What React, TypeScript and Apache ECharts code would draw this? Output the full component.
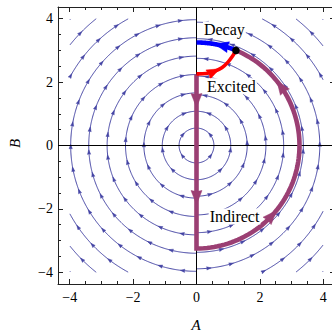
import React, { useEffect, useRef } from 'react';
import * as echarts from 'echarts';

// ---- data ----
const majorTicks = [-4, -2, 0, 2, 4];
const minorTicks = [-3.5, -3, -2.5, -1.5, -1, -0.5, 0.5, 1, 1.5, 2.5, 3, 3.5];
const axisMin = -4.37;
const axisMax = 4.37;
const streamBox = 4;

// stream-line radii (left half flows clockwise upward, right half counter-clockwise upward)
const leftRadii = [0.55, 1.08, 1.66, 2.24, 2.82, 3.4, 3.97, 4.54, 5.1, 5.63];
const rightRadii = [0.55, 1.08, 1.6, 2.19, 2.75, 3.37, 3.89, 4.5, 5.08, 5.63];

// highlighted paths
const pathRadius = 3.25;
const indirectVerticalB = [2.24, -3.25];
const indirectArcDeg = [-90, 67.5];
const decayArcDeg = [67.5, 90];
const excitedA = [0, 0.3, 0.55, 0.8, 1.0, 1.15, 1.244];
const excitedB = [2.26, 2.27, 2.33, 2.45, 2.64, 2.84, 3.0];
const junction = [1.244, 3.0];
const indirectVertArrowB = [1.42, -1.64];
const indirectArcArrowDeg = [35, -43];
const decayArrowDeg = [76];
const excitedArrowIndex = 2;

// labels
const labelTexts = ['Decay', 'Excited', 'Indirect'];
const labelA = [0.88, 1.1, 1.2];
const labelB = [3.66, 1.87, -2.24];

const streamColor = '#4444a4';
const purple = '#9b3f73';
const blue = '#0000ff';
const red = '#ff0000';
const frameColor = '#222';
const serif = '"Liberation Serif", "DejaVu Serif", serif';

const fmt = (v: number) => (v < 0 ? '\u2212' + Math.abs(v) : String(v));

function arrowHead(center: number[], toward: number[], L: number, W: number, color: string, notchF = 0.3) {
  let dx = toward[0] - center[0];
  let dy = toward[1] - center[1];
  const len = Math.hypot(dx, dy) || 1;
  dx /= len;
  dy /= len;
  const nx = -dy, ny = dx;
  const tip = [center[0] + dx * L / 2, center[1] + dy * L / 2];
  const bx = center[0] - dx * L / 2, by = center[1] - dy * L / 2;
  const notch = [center[0] - dx * L * notchF, center[1] - dy * L * notchF];
  return {
    type: 'polygon',
    shape: {
      points: [tip, [bx + nx * W / 2, by + ny * W / 2], notch, [bx - nx * W / 2, by - ny * W / 2]],
    },
    style: { fill: color, stroke: color, lineWidth: 0.5 },
  };
}

function mkXAxis(position: string, showLine: boolean, ticks: number[], len: number, labels: boolean) {
  return {
    type: 'value', position, min: axisMin, max: axisMax, offset: 0,
    axisLine: { show: showLine, onZero: false, lineStyle: { color: frameColor, width: 1 } },
    axisTick: { show: true, inside: true, length: len, customValues: ticks, lineStyle: { color: frameColor, width: 1 } },
    axisLabel: {
      show: labels, customValues: majorTicks, formatter: fmt, margin: 6,
      color: '#000', fontFamily: serif, fontSize: 14,
    },
    splitLine: { show: false },
  };
}

function mkYAxis(position: string, showLine: boolean, ticks: number[], len: number, labels: boolean) {
  return {
    type: 'value', position, min: axisMin, max: axisMax, offset: 0,
    axisLine: { show: showLine, onZero: false, lineStyle: { color: frameColor, width: 1 } },
    axisTick: { show: true, inside: true, length: len, customValues: ticks, lineStyle: { color: frameColor, width: 1 } },
    axisLabel: {
      show: labels, customValues: majorTicks, formatter: fmt, margin: 5,
      color: '#000', fontFamily: serif, fontSize: 14,
    },
    splitLine: { show: false },
  };
}

function renderStream(params: any, api: any) {
  const r = api.value(0);
  const side = api.value(1);
  const ptAt = (t: number) => [side * r * Math.cos(t), r * Math.sin(t)];
  const inBox = (p: number[]) => Math.abs(p[0]) <= streamBox && Math.abs(p[1]) <= streamBox;
  const n = Math.max(30, Math.ceil((Math.PI * r) / 0.03));
  const runs: number[][][] = [];
  let cur: number[][] = [];
  for (let i = 0; i <= n; i++) {
    const t = -Math.PI / 2 + (Math.PI * i) / n;
    const p = ptAt(t);
    if (inBox(p)) cur.push(api.coord(p));
    else {
      if (cur.length > 1) runs.push(cur);
      cur = [];
    }
  }
  if (cur.length > 1) runs.push(cur);
  const children: any[] = runs.map((points) => ({
    type: 'polyline',
    shape: { points },
    style: { stroke: streamColor, lineWidth: 1, fill: 'none' },
  }));
  const total = Math.PI * r;
  const spacing = 0.72;
  for (let s = ((r * 0.61) % spacing) + 0.18; s < total - 0.1; s += spacing) {
    const t = -Math.PI / 2 + s / r;
    const p = ptAt(t);
    if (!inBox(p)) continue;
    const p2 = ptAt(t + 0.02 / r);
    children.push(arrowHead(api.coord(p), api.coord(p2), 4.5, 3.2, streamColor, 0.4));
  }
  return { type: 'group', children };
}

function arcPoints(api: any, r: number, d0: number, d1: number) {
  const pts: number[][] = [];
  const n = 80;
  for (let i = 0; i <= n; i++) {
    const a = ((d0 + ((d1 - d0) * i) / n) * Math.PI) / 180;
    pts.push(api.coord([r * Math.cos(a), r * Math.sin(a)]));
  }
  return pts;
}

function arcArrow(api: any, r: number, deg: number, L: number, W: number, color: string) {
  const a = (deg * Math.PI) / 180;
  const a2 = a + 0.01;
  return arrowHead(
    api.coord([r * Math.cos(a), r * Math.sin(a)]),
    api.coord([r * Math.cos(a2), r * Math.sin(a2)]),
    L, W, color, 0.42
  );
}

function renderPaths(params: any, api: any) {
  const lines: any[] = [];
  const heads: any[] = [];
  const purplePts = [
    api.coord([0, indirectVerticalB[0]]),
    ...arcPoints(api, pathRadius, indirectArcDeg[0], indirectArcDeg[1]),
  ];
  lines.push({
    type: 'polyline', shape: { points: purplePts },
    style: { stroke: purple, lineWidth: 4.6, fill: 'none', lineJoin: 'miter' },
  });
  indirectVertArrowB.forEach((b) => {
    heads.push(arrowHead(api.coord([0, b]), api.coord([0, b - 0.1]), 14, 11, purple, 0.42));
  });
  indirectArcArrowDeg.forEach((d) => heads.push(arcArrow(api, pathRadius, d, 14, 11, purple)));

  const redPts = excitedA.map((a, i) => api.coord([a, excitedB[i]]));
  lines.push({
    type: 'polyline', shape: { points: redPts, smooth: 0.3 },
    style: { stroke: red, lineWidth: 3.6, fill: 'none', lineJoin: 'round' },
  });
  const k = excitedArrowIndex;
  heads.push(
    arrowHead(
      api.coord([excitedA[k], excitedB[k]]),
      api.coord([excitedA[k + 1], excitedB[k + 1]]),
      13, 10, red, 0.42
    )
  );

  lines.push({
    type: 'polyline', shape: { points: arcPoints(api, pathRadius, decayArcDeg[0], decayArcDeg[1]) },
    style: { stroke: blue, lineWidth: 4.6, fill: 'none' },
  });
  decayArrowDeg.forEach((d) => heads.push(arcArrow(api, pathRadius, d, 14, 11, blue)));

  const jc = api.coord(junction);
  heads.push({ type: 'circle', shape: { cx: jc[0], cy: jc[1], r: 3.8 }, style: { fill: '#000' } });
  return { type: 'group', children: [...lines, ...heads] };
}

function renderAxesLines(params: any, api: any) {
  const h0 = api.coord([axisMin, 0]);
  const h1 = api.coord([axisMax, 0]);
  const v0 = api.coord([0, axisMin]);
  const v1 = api.coord([0, axisMax]);
  return {
    type: 'group',
    children: [
      { type: 'line', shape: { x1: h0[0], y1: h0[1], x2: h1[0], y2: h1[1] }, style: { stroke: '#000', lineWidth: 1 } },
      { type: 'line', shape: { x1: v0[0], y1: v0[1], x2: v1[0], y2: v1[1] }, style: { stroke: '#000', lineWidth: 1 } },
    ],
  };
}

function renderLabel(params: any, api: any) {
  const c = api.coord([api.value(0), api.value(1)]);
  return {
    type: 'text',
    x: c[0], y: c[1],
    style: {
      text: labelTexts[params.dataIndex],
      fill: '#000',
      fontFamily: serif,
      fontSize: 16,
      align: 'center',
      verticalAlign: 'middle',
      backgroundColor: '#fff',
      padding: [0, 1],
    },
  };
}

export default function App() {
  const ref = useRef<HTMLDivElement>(null);
  useEffect(() => {
    if (!ref.current) return;
    const chart = echarts.init(ref.current, undefined, { renderer: 'svg' });
    const streamData = [
      ...leftRadii.map((r) => [r, -1]),
      ...rightRadii.map((r) => [r, 1]),
    ];
    const option: any = {
      animation: false,
      backgroundColor: '#fff',
      grid: { left: 58, top: 7, width: 277, height: 277, containLabel: false, outerBoundsMode: 'none' },
      xAxis: [
        mkXAxis('bottom', true, majorTicks, 5, true),
        mkXAxis('bottom', false, minorTicks, 3, false),
        mkXAxis('top', true, majorTicks, 5, false),
        mkXAxis('top', false, minorTicks, 3, false),
      ],
      yAxis: [
        mkYAxis('left', true, majorTicks, 5, true),
        mkYAxis('left', false, minorTicks, 3, false),
        mkYAxis('right', true, majorTicks, 5, false),
        mkYAxis('right', false, minorTicks, 3, false),
      ],
      series: [
        { type: 'custom', coordinateSystem: 'cartesian2d', renderItem: renderStream, data: streamData, z: 2, silent: true },
        { type: 'custom', coordinateSystem: 'cartesian2d', renderItem: renderAxesLines, data: [[0, 0]], z: 3, silent: true },
        { type: 'custom', coordinateSystem: 'cartesian2d', renderItem: renderPaths, data: [[0, 0]], z: 4, silent: true },
        {
          type: 'custom', coordinateSystem: 'cartesian2d', renderItem: renderLabel,
          data: labelA.map((a, i) => [a, labelB[i]]), z: 5, silent: true,
        },
      ],
      graphic: [
        {
          type: 'text', x: 196, y: 325,
          style: { text: 'A', fill: '#000', fontFamily: serif, fontStyle: 'italic', fontSize: 15, align: 'center', verticalAlign: 'middle' },
        },
        {
          type: 'text', x: 15, y: 143.5, rotation: Math.PI / 2,
          style: { text: 'B', fill: '#000', fontFamily: serif, fontStyle: 'italic', fontSize: 15, align: 'center', verticalAlign: 'middle' },
        },
      ],
    };
    chart.setOption(option);
    return () => chart.dispose();
  }, []);
  return <div ref={ref} style={{ position: 'fixed', left: 0, top: 0, width: 332, height: 334 }} />;
}
